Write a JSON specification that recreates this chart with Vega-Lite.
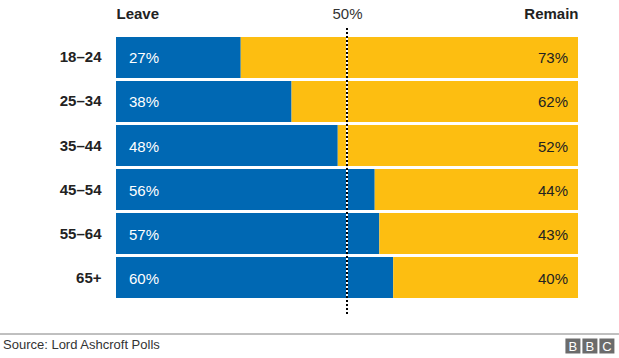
{
  "$schema": "https://vega.github.io/schema/vega-lite/v6.json",
  "autosize": {"type": "none"},
  "width": 462,
  "height": 286,
  "padding": {"left": 116, "right": 41, "top": 28, "bottom": 44},
  "background": "#ffffff",
  "config": {
    "view": {"stroke": null},
    "font": "Liberation Sans"
  },
  "data": {
    "values": [
      {"age": "18–24", "leave": 27, "remain": 73},
      {"age": "25–34", "leave": 38, "remain": 62},
      {"age": "35–44", "leave": 48, "remain": 52},
      {"age": "45–54", "leave": 56, "remain": 44},
      {"age": "55–64", "leave": 57, "remain": 43},
      {"age": "65+", "leave": 60, "remain": 40}
    ]
  },
  "transform": [
    {"calculate": "datum.leave + '%'", "as": "leaveLabel"},
    {"calculate": "datum.remain + '%'", "as": "remainLabel"}
  ],
  "layer": [
    {
      "mark": {"type": "bar", "color": "#0068B3"},
      "encoding": {
        "y": {
          "field": "age",
          "type": "nominal",
          "sort": null,
          "scale": {"paddingInner": 0.0682, "paddingOuter": 0.284, "align": 0.36},
          "axis": {
            "title": null,
            "domain": false,
            "ticks": false,
            "labelPadding": 15,
            "labelFontSize": 15,
            "labelFontWeight": "bold",
            "labelColor": "#222222",
            "labelFont": "Liberation Sans"
          }
        },
        "x": {
          "field": "leave",
          "type": "quantitative",
          "scale": {"domain": [0, 100], "nice": false, "zero": true},
          "axis": {
            "orient": "top",
            "title": null,
            "domain": false,
            "ticks": false,
            "grid": false,
            "values": [0, 50, 100],
            "labelExpr": "datum.value == 0 ? 'Leave' : datum.value == 50 ? '50%' : 'Remain'",
            "labelFontSize": 15,
            "labelPadding": 7,
            "labelFlush": false,
            "labelBound": false,
            "labelOverlap": false,
            "labelFont": "Liberation Sans",
            "labelAlign": {"condition": [{"test": "datum.value == 0", "value": "left"}, {"test": "datum.value == 100", "value": "right"}], "value": "center"},
            "labelFontWeight": {"condition": {"test": "datum.value == 50", "value": "normal"}, "value": "bold"},
            "labelColor": {"condition": {"test": "datum.value == 50", "value": "#333333"}, "value": "#222222"}
          }
        }
      }
    },
    {
      "mark": {"type": "bar", "color": "#FDBE11"},
      "encoding": {
        "y": {"field": "age", "type": "nominal", "sort": null},
        "x": {"field": "leave", "type": "quantitative"},
        "x2": {"datum": 100}
      }
    },
    {
      "data": {"values": [{"line": "50%"}]},
      "mark": {"type": "rule", "color": "#ffffff", "strokeWidth": 2},
      "encoding": {"x": {"datum": 50}}
    },
    {
      "data": {"values": [{"line": "50%"}]},
      "mark": {"type": "rule", "color": "#000000", "strokeWidth": 2, "strokeDash": [2, 2]},
      "encoding": {"x": {"datum": 50}}
    },
    {
      "mark": {"type": "text", "align": "left", "baseline": "middle", "dx": 13, "dy": 1, "fontSize": 15, "color": "#ffffff", "font": "Liberation Sans"},
      "encoding": {
        "y": {"field": "age", "type": "nominal", "sort": null},
        "x": {"datum": 0},
        "text": {"field": "leaveLabel"}
      }
    },
    {
      "mark": {"type": "text", "align": "right", "baseline": "middle", "dx": -10, "dy": 1, "fontSize": 15, "color": "#222222", "font": "Liberation Sans"},
      "encoding": {
        "y": {"field": "age", "type": "nominal", "sort": null},
        "x": {"datum": 100},
        "text": {"field": "remainLabel"}
      }
    },
    {
      "data": {"values": [{"source": "Source: Lord Ashcroft Polls"}]},
      "mark": {"type": "text", "align": "left", "baseline": "alphabetic", "fontSize": 13, "color": "#333333", "font": "Liberation Sans"},
      "encoding": {
        "x": {"datum": -24.46},
        "y": {"value": 321},
        "text": {"field": "source"}
      }
    },
    {
      "data": {"values": [{"line": "separator"}]},
      "mark": {"type": "rule", "color": "#808080", "strokeWidth": 1},
      "encoding": {
        "x": {"datum": -25.11},
        "x2": {"datum": 108.87},
        "y": {"value": 306}
      }
    },
    {
      "data": {"values": [{"letter": "B"}]},
      "layer": [
        {"mark": {"type": "square", "size": 225, "filled": true, "opacity": 1, "color": "#6b6b6b"}, "encoding": {"x": {"datum": 98.9}, "y": {"value": 318}}},
        {"mark": {"type": "square", "size": 225, "filled": true, "opacity": 1, "color": "#6b6b6b"}, "encoding": {"x": {"datum": 102.58}, "y": {"value": 318}}},
        {"mark": {"type": "square", "size": 225, "filled": true, "opacity": 1, "color": "#6b6b6b"}, "encoding": {"x": {"datum": 106.26}, "y": {"value": 318}}},
        {"mark": {"type": "text", "text": "B", "fontSize": 13, "color": "#ffffff", "baseline": "middle", "align": "center", "font": "Liberation Sans"}, "encoding": {"x": {"datum": 98.9}, "y": {"value": 318.5}}},
        {"mark": {"type": "text", "text": "B", "fontSize": 13, "color": "#ffffff", "baseline": "middle", "align": "center", "font": "Liberation Sans"}, "encoding": {"x": {"datum": 102.58}, "y": {"value": 318.5}}},
        {"mark": {"type": "text", "text": "C", "fontSize": 13, "color": "#ffffff", "baseline": "middle", "align": "center", "font": "Liberation Sans"}, "encoding": {"x": {"datum": 106.26}, "y": {"value": 318.5}}}
      ]
    }
  ]
}
